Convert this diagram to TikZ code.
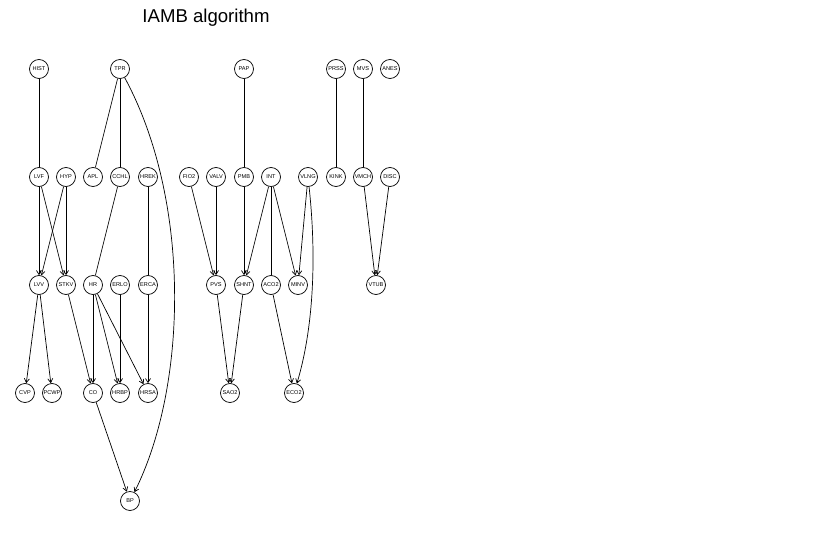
\documentclass[tikz,border=0pt]{standalone}
\usepackage{fontspec}
\usepackage{tikz}
\usetikzlibrary{arrows.meta}
\setmainfont{Liberation Sans}
\tikzset{
  bnnode/.style = {circle, draw = black, line width = 0.7pt, minimum size = 19pt, inner sep = 0pt, font = \fontsize{5.6}{6}\selectfont},
  arc/.style = {->, line width = 0.7pt},
  link/.style = {line width = 0.7pt}
}

\begin{document}
\begin{tikzpicture}[x = 1pt, y = -1pt, >={Straight Barb[length = 4pt, width = 5pt]}]
\useasboundingbox (0,0) rectangle (832,540);
\node (title) at (206,18) {\fontsize{18.6}{20}\selectfont IAMB algorithm};
% first row
\foreach \n/\x in {HIST/39, TPR/120, PAP/244, PRSS/336, MVS/363, ANES/390}
\node[bnnode] (\n) at (\x,69) {\n};
% second row
\foreach \n/\x in {LVF/39, HYP/66, APL/93, CCHL/120, HREK/148, FIO2/189, VALV/216, PMB/244, INT/271, VLNG/308, KINK/336, VMCH/363, DISC/390}
\node[bnnode] (\n) at (\x,177) {\n};
% third row
\foreach \n/\x in {LVV/39, STKV/66, HR/93, ERLO/120, ERCA/148, PVS/216, SHNT/244, ACO2/271, MINV/298, VTUB/376}
\node[bnnode] (\n) at (\x,285) {\n};
% fourth row
\foreach \n/\x in {CVP/25, PCWP/52, CO/93, HRBP/120, HRSA/148, SAO2/230, ECO2/294}
\node[bnnode] (\n) at (\x,393) {\n};
\node[bnnode] (BP) at (130,501) {BP};
% undirected arcs
\foreach \a/\b in {HIST/LVF, TPR/APL, TPR/CCHL, PAP/PMB, PRSS/KINK, MVS/VMCH, CCHL/HR, HREK/ERCA, INT/ACO2}
\draw[link] (\a) -- (\b);
% directed arcs
\foreach \a/\b in {LVF/LVV, LVF/STKV, HYP/LVV, HYP/STKV, FIO2/PVS, VALV/PVS, PMB/SHNT, INT/SHNT, INT/MINV, VLNG/MINV, VMCH/VTUB, DISC/VTUB, LVV/CVP, LVV/PCWP, STKV/CO, HR/CO, HR/HRBP, HR/HRSA, ERLO/HRBP, ERCA/HRSA, PVS/SAO2, SHNT/SAO2, ACO2/ECO2, CO/BP}
\draw[arc] (\a) -- (\b);
\draw[arc] (TPR) .. controls (191,200) and (188,385) .. (BP);
\draw[arc] (VLNG) .. controls (317,260) and (313,330) .. (ECO2);
\end{tikzpicture}
\end{document}
